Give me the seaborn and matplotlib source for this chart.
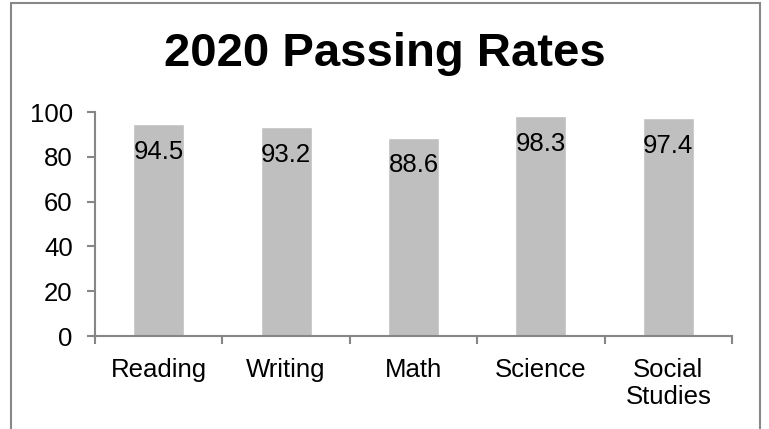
import pandas as pd
import seaborn as sns
import matplotlib.pyplot as plt
from matplotlib.patches import Rectangle

subjects = ['Reading', 'Writing', 'Math', 'Science', 'Social\nStudies']
rates = [94.5, 93.2, 88.6, 98.3, 97.4]
yticks = [0, 20, 40, 60, 80, 100]

df = pd.DataFrame({'subject': subjects, 'rate': rates})

sns.set_theme(style="white")
plt.rcParams['font.family'] = ['Liberation Sans', 'DejaVu Sans']

fig = plt.figure(figsize=(7.69, 4.29), dpi=100)
ax = fig.add_axes([95/769, 1 - 336/429, (732 - 95)/769, (336 - 112)/429])

sns.barplot(data=df, x='subject', y='rate', color='#bfbfbf', width=0.4,
            saturation=1, ax=ax)

for i, v in enumerate(rates):
    ax.annotate(f'{v}', (i, v), xytext=(0, -20), textcoords='offset points',
                ha='center', va='center', fontsize=18.5, color='black')

axis_grey = '#868686'
ax.set_xlim(-0.5, len(subjects) - 0.5)
ax.set_ylim(0, 100)
ax.set_yticks(yticks)
ax.set_xlabel('')
ax.set_ylabel('')
for s in ['top', 'right']:
    ax.spines[s].set_visible(False)
for s in ['left', 'bottom']:
    ax.spines[s].set_color(axis_grey)
    ax.spines[s].set_linewidth(1.5)

ax.tick_params(axis='y', which='major', left=True, length=6, width=1.5,
               color=axis_grey, labelsize=18.5, pad=10, labelcolor='black')
ax.tick_params(axis='x', which='major', bottom=False, labelsize=18.5,
               pad=10, labelcolor='black')
ax.set_xticks([i - 0.5 for i in range(len(subjects) + 1)], minor=True)
ax.tick_params(axis='x', which='minor', bottom=True, length=6, width=1.5,
               color=axis_grey)
for lbl in ax.get_xticklabels():
    lbl.set_linespacing(1.15)
    lbl.set_va('top')

fig.text(385/769, 1 - 54/429, '2020 Passing Rates', ha='center', va='center',
         fontsize=34, fontweight='bold', color='black')

# outer chart border (bottom edge is cut off in the original)
fig.patches.append(Rectangle((11/769, -0.2), (760 - 11)/769, 1.2 - 3/429,
                             transform=fig.transFigure, fill=False,
                             edgecolor='#888888', linewidth=1.5))

fig.savefig('out.png', dpi=100)
